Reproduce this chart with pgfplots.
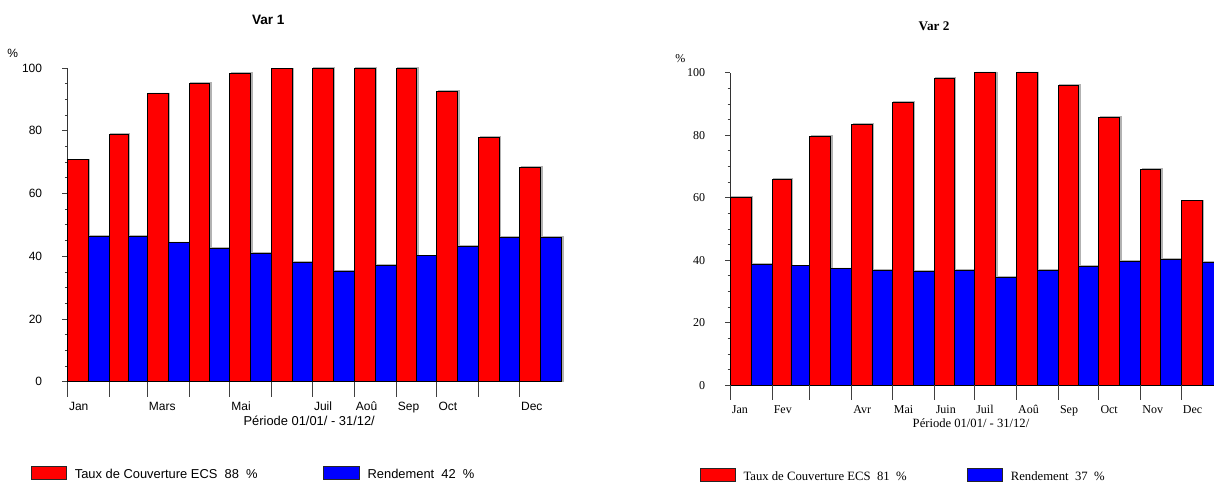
\documentclass[border=0pt]{standalone}
\usepackage{fontspec}
\setmainfont{Liberation Sans}
\newfontfamily\tnr{Liberation Serif}
\usepackage{pgfplots}
\usepackage{pgfplotstable}
\pgfplotsset{compat=1.18}

% Var 1
\pgfplotstableread{
x y
0 70.7
15.5 0
31 78.8
45 0
59 91.8
74.5 0
90 95.1
105 0
120 98.2
135.5 0
151 99.7
166 0
181 100
196.5 0
212 100
227.5 0
243 99.9
258 0
273 92.6
288.5 0
304 77.9
319 0
334 68.4
349.5 0
}\redA
\pgfplotstableread{
x y
15.5 46.4
31 0
45 46.4
59 0
74.5 44.3
90 0
105 42.5
120 0
135.5 41.0
151 0
166 38.0
181 0
196.5 35.3
212 0
227.5 37.2
243 0
258 40.1
273 0
288.5 43.1
304 0
319 46.1
334 0
349.5 46.1
365 0
}\blueA
% Var 2
\pgfplotstableread{
x y
0 60.2
15.5 0
31 65.9
45 0
59 79.7
74.5 0
90 83.5
105 0
120 90.5
135.5 0
151 98.3
166 0
181 100
196.5 0
212 100
227.5 0
243 96.0
258 0
273 85.8
288.5 0
304 69.1
319 0
334 59.0
349.5 0
}\redB
\pgfplotstableread{
x y
15.5 38.8
31 0
45 38.2
59 0
74.5 37.3
90 0
105 36.7
120 0
135.5 36.5
151 0
166 36.7
181 0
196.5 34.5
212 0
227.5 36.7
243 0
258 38.0
273 0
288.5 39.7
304 0
319 40.3
334 0
349.5 39.4
365 0
}\blueB

\pgfplotsset{
  mybase/.style={
    scale only axis, anchor=south west,
    xmin=0, xmax=365, ymin=0, ymax=100,
    axis x line*=bottom, axis y line*=left,
    axis line style={black!80, line width=0.9pt},
    tick align=outside,
    major tick length=5pt, minor tick length=2.5pt,
    xtick={0,31,59,90,120,151,181,212,243,273,304,334},
    ytick={0,20,...,100},
    minor y tick num=3,
    xtick style={draw=none},
    ytick style={black!75, line width=0.8pt},
    /pgf/number format/assume math mode=true,
    yticklabel style={anchor=east, inner sep=0pt, xshift=-20pt},
    xticklabel style={anchor=base west, inner sep=0pt, yshift=-23.4pt, xshift=1.5pt},
    clip=false,
  },
  shadow/.style={const plot, fill=black!30, draw=black!30, line width=0.8pt, xshift=1.5pt, yshift=0.8pt},
  redbar/.style={const plot, fill=red, draw=black, line width=0.9pt, line join=miter},
  bluebar/.style={const plot, fill=blue, draw=black, line width=0.9pt, line join=miter},
}

\begin{document}
\begin{tikzpicture}
\useasboundingbox (0,0) rectangle (1214pt,-482pt);
\clip (0,0) rectangle (1214pt,-482pt);

\begin{axis}[mybase,
  at={(67.3pt,-381.7pt)}, width=494.1pt, height=313.7pt,
  ticklabel style={font=\fontsize{12}{14}\selectfont},
  xticklabels={Jan,{},Mars,{},Mai,{},Juil,Aoû,Sep,Oct,{},Dec},
]
\addplot[shadow] table {\redA} \closedcycle;
\addplot[shadow] table {\blueA} \closedcycle;
\addplot[redbar] table {\redA} \closedcycle;
\addplot[bluebar] table {\blueA} \closedcycle;
\pgfplotsinvokeforeach{0,31,59,90,120,151,181,212,243,273,304,334}{
  \draw[black!75, line width=0.8pt] (axis cs:#1,0) -- ++(0pt,-15pt);
}
\end{axis}

\begin{axis}[mybase,
  at={(730.2pt,-385.3pt)}, width=492.8pt, height=312.6pt,
  ticklabel style={font=\tnr\fontsize{12}{14}\selectfont},
  xticklabels={Jan,Fev,{},Avr,Mai,Juin,Juil,Aoû,Sep,Oct,Nov,Dec},
]
\addplot[shadow] table {\redB} \closedcycle;
\addplot[shadow] table {\blueB} \closedcycle;
\addplot[redbar] table {\redB} \closedcycle;
\addplot[bluebar] table {\blueB} \closedcycle;
\pgfplotsinvokeforeach{0,31,59,90,120,151,181,212,243,273,304,334}{
  \draw[black!75, line width=0.8pt] (axis cs:#1,0) -- ++(0pt,-15pt);
}
\end{axis}

\begin{scope}[x=1pt,y=-1pt]
% left chart texts
\node[anchor=base, inner sep=0pt, font=\bfseries\fontsize{13.6}{16}\selectfont] at (268.3,24.9) {Var 1};
\node[anchor=base, inner sep=0pt, font=\fontsize{12}{14}\selectfont] at (12.8,57.6) {\%};
\node[anchor=base, inner sep=0pt, font=\fontsize{12.9}{15}\selectfont] at (309.2,425.4) {Période 01/01/ - 31/12/};
\filldraw[fill=red, draw=black!85, line width=0.7pt] (31.4,466) rectangle (66.2,479.3);
\node[anchor=base west, inner sep=0pt, font=\fontsize{12.9}{15}\selectfont] at (74.6,478) {Taux de Couverture ECS\ \ 88\ \ \%};
\filldraw[fill=blue, draw=black!85, line width=0.7pt] (323.4,466) rectangle (359.7,479.3);
\node[anchor=base west, inner sep=0pt, font=\fontsize{12.9}{15}\selectfont] at (367.4,478) {Rendement\ \ 42\ \ \%};
% right chart texts
\node[anchor=base, inner sep=0pt, font=\tnr\bfseries\fontsize{13.2}{16}\selectfont] at (934,30.1) {Var 2};
\node[anchor=base, inner sep=0pt, font=\tnr\fontsize{12}{14}\selectfont] at (680.3,62.5) {\%};
\node[anchor=base, inner sep=0pt, font=\tnr\fontsize{12.6}{15}\selectfont] at (971,427.7) {Période 01/01/ - 31/12/};
\filldraw[fill=red, draw=black!85, line width=0.7pt] (700.1,468.3) rectangle (735.6,481.3);
\node[anchor=base west, inner sep=0pt, font=\tnr\fontsize{12.7}{15}\selectfont] at (743.3,480.7) {Taux de Couverture ECS\ \ 81\ \ \%};
\filldraw[fill=blue, draw=black!85, line width=0.7pt] (967.5,468.3) rectangle (1002.1,481.3);
\node[anchor=base west, inner sep=0pt, font=\tnr\fontsize{12.7}{15}\selectfont] at (1010.6,480.7) {Rendement\ \ 37\ \ \%};
\end{scope}
\end{tikzpicture}
\end{document}
